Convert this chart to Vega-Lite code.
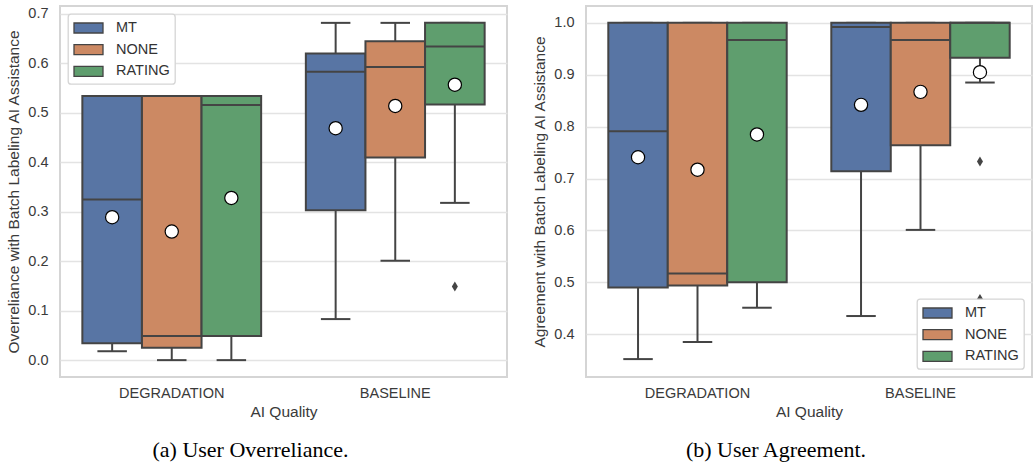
{
  "$schema": "https://vega.github.io/schema/vega-lite/v6.json",
  "padding": {"left": 5, "top": 4, "right": 0, "bottom": 0},
  "bounds": "flush",
  "spacing": 79,
  "background": "white",
  "config": {
    "view": {"stroke": "#d5d5d5", "strokeWidth": 2},
    "font": "Liberation Sans",
    "axisY": {"grid": true, "gridColor": "#e3e3e3", "gridWidth": 1.5, "domain": false, "ticks": false, "tickSize": 0, "labelFontSize": 14.5, "labelColor": "#3a3a3a", "labelPadding": 12, "titleFontSize": 15.5, "titleFontWeight": "normal", "titleColor": "#3a3a3a", "titlePadding": 6, "format": ".1f"},
    "axisX": {"grid": false, "domain": false, "ticks": false, "tickSize": 0, "labelAngle": 0, "labelFontSize": 14.5, "labelColor": "#3a3a3a", "labelPadding": 9, "titleFontSize": 15.5, "titleFontWeight": "normal", "titleColor": "#3a3a3a", "titlePadding": 5},
    "legend": {"padding": 5, "fillColor": "white", "strokeColor": "#d5d5d5", "strokeWidth": 1.3, "cornerRadius": 3, "labelFontSize": 14.5, "labelColor": "#333333", "symbolType": "M-1,-0.625H2.625V0.625H-1Z", "symbolSize": 256, "symbolStrokeColor": "#444444", "symbolStrokeWidth": 1.3, "symbolOpacity": 1, "labelOffset": 25, "rowPadding": 4.7, "offset": 8, "title": null},
    "title": {"font": "Liberation Serif", "fontSize": 22, "fontWeight": "normal", "color": "black", "orient": "bottom", "anchor": "middle", "frame": "group", "offset": 20, "dx": -33}
  },
  "datasets": {
    "over": [
      {"q": "DEGRADATION", "c": "MT", "lo": 0.018, "q1": 0.034, "med": 0.325, "q3": 0.534, "hi": 0.534, "mean": 0.289},
      {"q": "DEGRADATION", "c": "NONE", "lo": 0.0, "q1": 0.025, "med": 0.049, "q3": 0.534, "hi": 0.534, "mean": 0.26},
      {"q": "DEGRADATION", "c": "RATING", "lo": 0.0, "q1": 0.049, "med": 0.516, "q3": 0.534, "hi": 0.534, "mean": 0.328},
      {"q": "BASELINE", "c": "MT", "lo": 0.083, "q1": 0.303, "med": 0.583, "q3": 0.62, "hi": 0.682, "mean": 0.469},
      {"q": "BASELINE", "c": "NONE", "lo": 0.201, "q1": 0.41, "med": 0.593, "q3": 0.645, "hi": 0.682, "mean": 0.514},
      {"q": "BASELINE", "c": "RATING", "lo": 0.318, "q1": 0.517, "med": 0.634, "q3": 0.682, "hi": 0.682, "mean": 0.557}
    ],
    "overOut": [
      {"q": "BASELINE", "c": "RATING", "v": 0.149}
    ],
    "agree": [
      {"q": "DEGRADATION", "c": "MT", "lo": 0.352, "q1": 0.49, "med": 0.791, "q3": 1.0, "hi": 1.0, "mean": 0.741},
      {"q": "DEGRADATION", "c": "NONE", "lo": 0.385, "q1": 0.494, "med": 0.517, "q3": 1.0, "hi": 1.0, "mean": 0.717},
      {"q": "DEGRADATION", "c": "RATING", "lo": 0.451, "q1": 0.5, "med": 0.967, "q3": 1.0, "hi": 1.0, "mean": 0.785},
      {"q": "BASELINE", "c": "MT", "lo": 0.435, "q1": 0.714, "med": 0.992, "q3": 1.0, "hi": 1.0, "mean": 0.842},
      {"q": "BASELINE", "c": "NONE", "lo": 0.601, "q1": 0.764, "med": 0.967, "q3": 1.0, "hi": 1.0, "mean": 0.867},
      {"q": "BASELINE", "c": "RATING", "lo": 0.885, "q1": 0.933, "med": 1.0, "q3": 1.0, "hi": 1.0, "mean": 0.905}
    ],
    "agreeOut": [
      {"q": "BASELINE", "c": "RATING", "v": 0.733},
      {"q": "BASELINE", "c": "RATING", "v": 0.468}
    ]
  },
  "hconcat": [
    {
      "width": 447,
      "height": 371,
      "title": {"text": "(a) User Overreliance."},
      "data": {"name": "over"},
      "encoding": {
        "x": {"field": "q", "type": "nominal", "sort": ["DEGRADATION", "BASELINE"], "scale": {"paddingInner": 0.2, "paddingOuter": 0.1}, "title": "AI Quality"},
        "xOffset": {"field": "c", "type": "nominal", "sort": ["MT", "NONE", "RATING"], "scale": {"paddingInner": 0, "paddingOuter": 0}}
      },
      "layer": [
        {"mark": {"type": "rule", "color": "#444444", "strokeWidth": 2}, "encoding": {"y": {"field": "lo", "type": "quantitative", "scale": {"domain": [-0.0341, 0.7161], "nice": false, "zero": false}, "axis": {"values": [0, 0.1, 0.2, 0.3, 0.4, 0.5, 0.6, 0.7]}, "title": "Overreliance with Batch Labeling AI Assistance"}, "y2": {"field": "q1"}}},
        {"mark": {"type": "rule", "color": "#444444", "strokeWidth": 2}, "encoding": {"y": {"field": "q3", "type": "quantitative"}, "y2": {"field": "hi"}}},
        {"mark": {"type": "tick", "orient": "horizontal", "size": 29.5, "thickness": 2, "color": "#444444", "opacity": 1}, "encoding": {"y": {"field": "lo", "type": "quantitative"}}},
        {"mark": {"type": "tick", "orient": "horizontal", "size": 29.5, "thickness": 2, "color": "#444444", "opacity": 1}, "encoding": {"y": {"field": "hi", "type": "quantitative"}}},
        {"mark": {"type": "bar", "stroke": "#444444", "strokeWidth": 2, "opacity": 1}, "encoding": {"y": {"field": "q1", "type": "quantitative"}, "y2": {"field": "q3"}, "color": {"field": "c", "type": "nominal", "scale": {"domain": ["MT", "NONE", "RATING"], "range": ["#5875a4", "#cc8963", "#5f9e6e"]}, "legend": {"orient": "top-left", "title": null}}}},
        {"mark": {"type": "tick", "orient": "horizontal", "size": 59.6, "thickness": 2, "color": "#444444", "opacity": 1}, "encoding": {"y": {"field": "med", "type": "quantitative"}}},
        {"mark": {"type": "point", "filled": true, "fill": "white", "stroke": "black", "strokeWidth": 1.2, "size": 175, "opacity": 1}, "encoding": {"y": {"field": "mean", "type": "quantitative"}}},
        {"data": {"name": "overOut"}, "mark": {"type": "point", "shape": "M0,-1L0.6,0L0,1L-0.6,0Z", "filled": true, "color": "#444444", "size": 100, "opacity": 1}, "encoding": {"y": {"field": "v", "type": "quantitative"}}}
      ]
    },
    {
      "width": 446,
      "height": 371,
      "title": {"text": "(b) User Agreement."},
      "data": {"name": "agree"},
      "encoding": {
        "x": {"field": "q", "type": "nominal", "sort": ["DEGRADATION", "BASELINE"], "scale": {"paddingInner": 0.2, "paddingOuter": 0.1}, "title": "AI Quality"},
        "xOffset": {"field": "c", "type": "nominal", "sort": ["MT", "NONE", "RATING"], "scale": {"paddingInner": 0, "paddingOuter": 0}}
      },
      "layer": [
        {"mark": {"type": "rule", "color": "#444444", "strokeWidth": 2}, "encoding": {"y": {"field": "lo", "type": "quantitative", "scale": {"domain": [0.3175, 1.0325], "nice": false, "zero": false}, "axis": {"values": [0.4, 0.5, 0.6, 0.7, 0.8, 0.9, 1.0]}, "title": "Agreement with Batch Labeling AI Assistance"}, "y2": {"field": "q1"}}},
        {"mark": {"type": "rule", "color": "#444444", "strokeWidth": 2}, "encoding": {"y": {"field": "q3", "type": "quantitative"}, "y2": {"field": "hi"}}},
        {"mark": {"type": "tick", "orient": "horizontal", "size": 29.5, "thickness": 2, "color": "#444444", "opacity": 1}, "encoding": {"y": {"field": "lo", "type": "quantitative"}}},
        {"mark": {"type": "tick", "orient": "horizontal", "size": 29.5, "thickness": 2, "color": "#444444", "opacity": 1}, "encoding": {"y": {"field": "hi", "type": "quantitative"}}},
        {"mark": {"type": "bar", "stroke": "#444444", "strokeWidth": 2, "opacity": 1}, "encoding": {"y": {"field": "q1", "type": "quantitative"}, "y2": {"field": "q3"}, "color": {"field": "c", "type": "nominal", "scale": {"domain": ["MT", "NONE", "RATING"], "range": ["#5875a4", "#cc8963", "#5f9e6e"]}, "legend": {"orient": "bottom-right", "title": null}}}},
        {"mark": {"type": "tick", "orient": "horizontal", "size": 59.6, "thickness": 2, "color": "#444444", "opacity": 1}, "encoding": {"y": {"field": "med", "type": "quantitative"}}},
        {"mark": {"type": "point", "filled": true, "fill": "white", "stroke": "black", "strokeWidth": 1.2, "size": 175, "opacity": 1}, "encoding": {"y": {"field": "mean", "type": "quantitative"}}},
        {"data": {"name": "agreeOut"}, "mark": {"type": "point", "shape": "M0,-1L0.6,0L0,1L-0.6,0Z", "filled": true, "color": "#444444", "size": 100, "opacity": 1}, "encoding": {"y": {"field": "v", "type": "quantitative"}}}
      ]
    }
  ],
  "resolve": {
    "scale": {"x": "independent", "y": "independent", "xOffset": "independent", "color": "independent"},
    "axis": {"x": "independent", "y": "independent"},
    "legend": {"color": "independent"}
  }
}
